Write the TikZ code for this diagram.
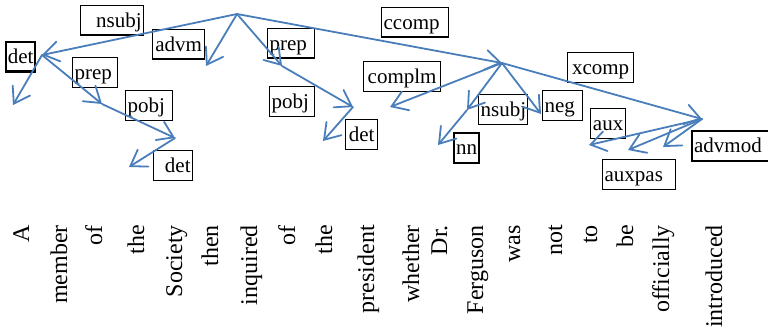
\documentclass[tikz,border=0pt]{standalone}
\usepackage{fontspec}
\setmainfont{Liberation Serif}
\usetikzlibrary{arrows.meta}
\definecolor{deparc}{RGB}{74,126,187}
\begin{document}
\begin{tikzpicture}[x=1pt,y=-1pt,
  arc/.style={draw=deparc, line width=1.8pt, line cap=round,
    -{Straight Barb[length=15pt,width=20pt,line cap=round]}},
  word/.style={rotate=90, anchor=base east, inner sep=0pt,
    font=\fontsize{24}{24}\selectfont},
  lab/.style={draw, fill=white, line width=1.3pt, anchor=north west,
    inner xsep=2pt, inner ysep=0pt, text height=16pt, text depth=2pt,
    minimum height=29.5pt, font=\fontsize{21}{21}\selectfont},
  heavy/.style={line width=2.3pt}]
\useasboundingbox (0,0) rectangle (768,329);

% sentence, one rotated word per column
\node[word] (wA)    at (29,225)  {A};
\node[word] (wmem)  at (67,225)  {member};
\node[word] (wof1)  at (102,225) {of};
\node[word] (wthe1) at (144,225) {the};
\node[word] (wsoc)  at (182,225) {Society};
\node[word] (wthen) at (218,225) {then};
\node[word] (winq)  at (257,225) {inquired};
\node[word] (wof2)  at (295,225) {of};
\node[word] (wthe2) at (332,225) {the};
\node[word] (wpres) at (374,225) {president};
\node[word] (wwhe)  at (419,225) {whether};
\node[word] (wdr)   at (447,225) {Dr.};
\node[word] (wfer)  at (483,225) {Ferguson};
\node[word] (wwas)  at (520,225) {was};
\node[word] (wnot)  at (562,225) {not};
\node[word] (wto)   at (597,225) {to};
\node[word] (wbe)   at (633,225) {be};
\node[word] (woff)  at (669,225) {officially};
\node[word] (wint)  at (722,225) {introduced};

% dependency labels
\node[lab, text width=59pt, align=right]  (lnsubjA) at (80,5)    {nsubj};
\node[lab, heavy, text width=26pt, align=center, inner xsep=1.5pt] (ldetA) at (5,41) {det};
\node[lab, text width=48pt, align=center] (ladvm)   at (152,29)  {advm};
\node[lab, text width=41pt, align=left]   (lprepA)  at (72,57)   {prep};
\node[lab, text width=43pt, align=left]   (lpobjA)  at (125,90)  {pobj};
\node[lab, text width=35pt, align=right]  (ldetB)   at (153,150) {det};
\node[lab, text width=43pt, align=left]   (lprepB)  at (267,28)  {prep};
\node[lab, text width=63pt, align=left]   (lccomp)  at (381,7)   {ccomp};
\node[lab, text width=41pt, align=left]   (lpobjB)  at (269,86)  {pobj};
\node[lab, text width=73pt, align=center] (lcomplm) at (363,61)  {complm};
\node[lab, text width=28pt, align=center] (ldetC)   at (345,119) {det};
\node[lab, text width=45pt, align=center] (lnsubjB) at (478,94)  {nsubj};
\node[lab, heavy, text width=22pt, align=center, inner xsep=1.5pt] (lnn) at (453,132) {nn};
\node[lab, text width=64pt, align=center, inner xsep=1pt] (lxcomp) at (567,52) {xcomp};
\node[lab, text width=36pt, align=left]   (lneg)    at (542,90)  {neg};
\node[lab, text width=31pt, align=center] (laux)    at (590,108) {aux};
\node[lab, heavy, text width=73pt, align=left] (ladvmod) at (691,130) {advmod};
\node[lab, text width=69pt, align=left]   (lauxpas) at (602,159) {auxpas};

% tree points
\coordinate (pinq)  at (237,14);
\coordinate (pmem)  at (42,55);
\coordinate (pA)    at (13,105);
\coordinate (pof1)  at (102,104);
\coordinate (psoc)  at (175,138);
\coordinate (pthe1) at (129,167);
\coordinate (pthen) at (206,66);
\coordinate (pof2)  at (282,66);
\coordinate (ppres) at (353,107);
\coordinate (pthe2) at (323,141);
\coordinate (pwas)  at (502,63);
\coordinate (pwhe)  at (390,107);
\coordinate (pfer)  at (467,110);
\coordinate (pdr)   at (438,145);
\coordinate (pnot)  at (541,114);
\coordinate (pint)  at (702,119);
\coordinate (pto)   at (589,145);
\coordinate (pbe)   at (628,150);
\coordinate (poff)  at (663,147);

% arcs
\draw[arc] (pinq) -- (pmem);
\draw[arc] (pmem) -- (pA);
\draw[arc] (pmem) -- (pof1);
\draw[arc] (pof1) -- (psoc);
\draw[arc] (psoc) -- (pthe1);
\draw[arc] (pinq) -- (pthen);
\draw[arc] (pinq) -- (pof2);
\draw[arc] (pof2) -- (ppres);
\draw[arc] (ppres) -- (pthe2);
\draw[arc] (pinq) -- (pwas);
\draw[arc] (pwas) -- (pwhe);
\draw[arc] (pwas) -- (pfer);
\draw[arc] (pfer) -- (pdr);
\draw[arc] (pwas) -- (pnot);
\draw[arc] (pwas) -- (pint);
\draw[arc] (pint) -- (pto);
\draw[arc] (pint) -- (pbe);
\draw[arc] (pint) -- (poff);
\end{tikzpicture}
\end{document}
